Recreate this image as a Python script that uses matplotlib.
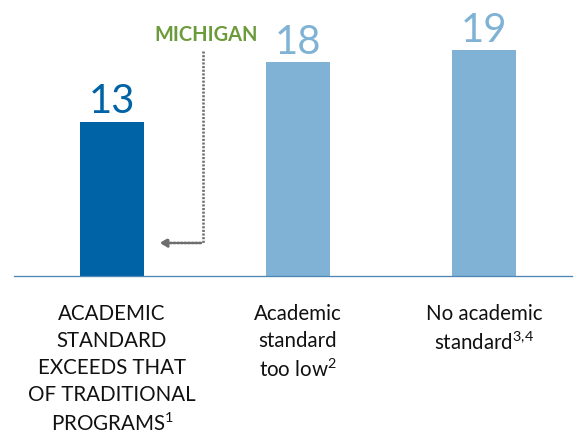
import matplotlib.pyplot as plt

categories = ["ACADEMIC\nSTANDARD\nEXCEEDS THAT\nOF TRADITIONAL\nPROGRAMS$\\mathregular{^{1}}$",
              "Academic\nstandard\ntoo low$\\mathregular{^{2}}$",
              "No academic\nstandard$\\mathregular{^{3{,}4}}$"]
values = [13, 18, 19]
colors = ["#0063a6", "#7fb2d4"]
bar_colors = [colors[0], colors[1], colors[1]]

plt.rcParams["font.family"] = ["Lato", "DejaVu Sans"]
plt.rcParams["mathtext.fontset"] = "custom"
plt.rcParams["mathtext.rm"] = "Lato"

fig = plt.figure(figsize=(8, 439 / 72), dpi=72)
ax = fig.add_axes([14 / 576, 163 / 439, 558 / 576, 276 / 439])

x = range(len(values))
ax.bar(x, values, width=0.344, color=bar_colors)
for xi, v, c in zip(x, values, bar_colors):
    ax.text(xi, v + 0.1, str(v), ha="center", va="bottom", fontsize=40, color=c)

ax.set_xlim(-0.527, 2.473)
ax.set_ylim(0, 23.23)
ax.set_yticks([])
ax.set_xticks(list(x))
ax.set_xticklabels(categories, fontsize=20.5, linespacing=1.43, ha="center", color="#111111")
ax.tick_params(axis="x", length=0, pad=28)
for s in ["top", "left", "right"]:
    ax.spines[s].set_visible(False)
ax.spines["bottom"].set_color("#4f86b4")
ax.spines["bottom"].set_linewidth(1.3)

# Michigan annotation
ax.text(0.505, 20.3, "MICHIGAN", ha="center", va="center", fontsize=20,
        fontweight="bold", color="#6b9b3a")
ax.plot([0.489, 0.489], [18.9, 2.78], color="#6e6e6e", lw=2.6, ls=(0, (0.8, 0.6)))
ax.annotate("", xy=(0.245, 2.78), xytext=(0.489, 2.78),
            arrowprops=dict(arrowstyle="-|>,head_length=0.6,head_width=0.35",
                            color="#6e6e6e", lw=2.6, ls=(0, (0.8, 0.6))))

fig.savefig("out.png", dpi=72)
